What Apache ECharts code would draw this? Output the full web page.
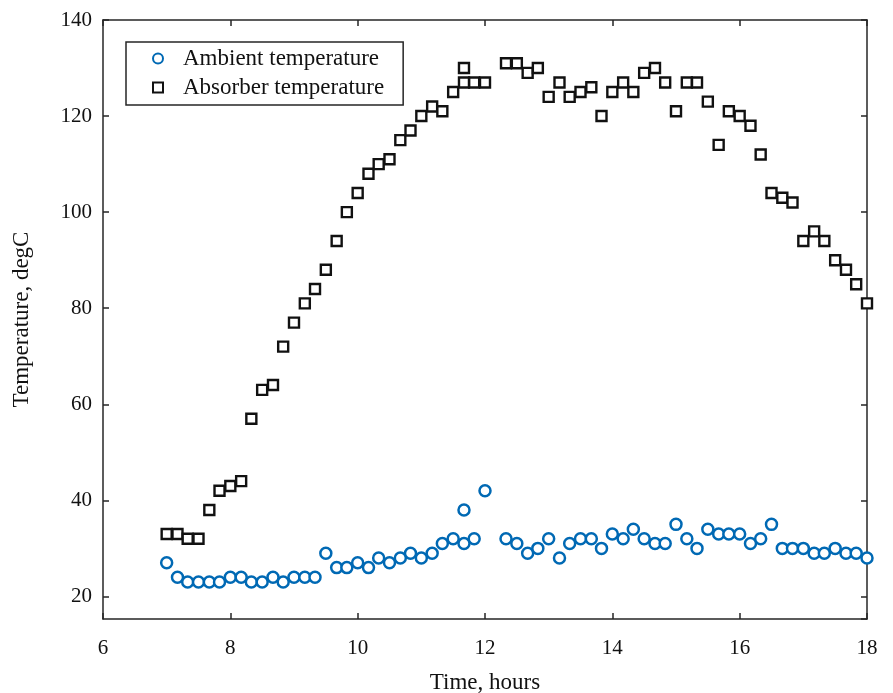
<!DOCTYPE html>
<html>
  <head>
    <meta charset="utf-8" />
    <title>Ambient and absorber temperature</title>
    <script src="https://cdn.jsdelivr.net/npm/echarts@6/dist/echarts.min.js"></script>
    <style>
      html, body { margin: 0; padding: 0; background: #fff; }
      #chart { width: 893px; height: 693px; }
    </style>
  </head>
  <body>
    <div id="chart"></div>
    <script type="text/javascript">
      // time of each reading, hours (two readings logged at 11:40)
      var hours = [
        7.00, 7.17, 7.33, 7.50, 7.67, 7.83,
        8.00, 8.17, 8.33, 8.50, 8.67, 8.83,
        9.00, 9.17, 9.33, 9.50, 9.67, 9.83,
        10.00, 10.17, 10.33, 10.50, 10.67, 10.83,
        11.00, 11.17, 11.33, 11.50, 11.67, 11.67, 11.83,
        12.00, 12.33, 12.50, 12.67, 12.83,
        13.00, 13.17, 13.33, 13.50, 13.67, 13.83,
        14.00, 14.17, 14.33, 14.50, 14.67, 14.83,
        15.00, 15.17, 15.33, 15.50, 15.67, 15.83,
        16.00, 16.17, 16.33, 16.50, 16.67, 16.83,
        17.00, 17.17, 17.33, 17.50, 17.67, 17.83,
        18.00
      ];
      var ambient = [
        27, 24, 23, 23, 23, 23,
        24, 24, 23, 23, 24, 23,
        24, 24, 24, 29, 26, 26,
        27, 26, 28, 27, 28, 29,
        28, 29, 31, 32, 38, 31, 32,
        42, 32, 31, 29, 30,
        32, 28, 31, 32, 32, 30,
        33, 32, 34, 32, 31, 31,
        35, 32, 30, 34, 33, 33,
        33, 31, 32, 35, 30, 30,
        30, 29, 29, 30, 29, 29,
        28
      ];
      var absorber = [
        33, 33, 32, 32, 38, 42,
        43, 44, 57, 63, 64, 72,
        77, 81, 84, 88, 94, 100,
        104, 108, 110, 111, 115, 117,
        120, 122, 121, 125, 130, 127, 127,
        127, 131, 131, 129, 130,
        124, 127, 124, 125, 126, 120,
        125, 127, 125, 129, 130, 127,
        121, 127, 127, 123, 114, 121,
        120, 118, 112, 104, 103, 102,
        94, 96, 94, 90, 88, 85,
        81
      ];
      var xTicks = [6, 8, 10, 12, 14, 16, 18];
      var yTicks = [20, 40, 60, 80, 100, 120, 140];

      var font = "Liberation Serif";

      function pairs(vals) {
        var out = [];
        for (i = 0; i < hours.length; i++) {
          out.push([hours[i], vals[i]]);
        }
        return out;
      }

      var chartDom = document.getElementById("chart");
      var myChart = echarts.init(chartDom, null, { renderer: "canvas" });
      var option;

      var axisLine = { show: true, onZero: false, lineStyle: { color: "#262626", width: 1.5 } };
      var axisTick = { show: true, inside: true, length: 6, lineStyle: { color: "#262626", width: 1.5 } };

      option = {
        backgroundColor: "#fff",
        animation: false,
        grid: { left: 103, right: 26, top: 20, bottom: 74, outerBoundsMode: "none", containLabel: false },
        legend: {
          orient: "vertical",
          left: 126,
          top: 42,
          data: [
            { name: "Ambient temperature", icon: "circle" },
            { name: "Absorber temperature", icon: "rect" }
          ],
          itemWidth: 10,
          itemHeight: 10,
          itemGap: 6,
          padding: [5, 19, 6, 26],
          backgroundColor: "#fff",
          borderColor: "#262626",
          borderWidth: 1.5,
          borderRadius: 0,
          textStyle: { fontFamily: font, fontSize: 23, color: "#111", padding: [0, 0, 0, 15] }
        },
        xAxis: [
          {
            type: "value",
            min: 6,
            max: 18,
            interval: 2,
            name: "Time, hours",
            nameLocation: "middle",
            nameGap: 52,
            nameTextStyle: { fontFamily: font, fontSize: 23, color: "#111" },
            axisLine: axisLine,
            axisTick: axisTick,
            splitLine: { show: false },
            axisLabel: {
              margin: 19,
              fontFamily: font,
              fontSize: 21,
              color: "#111",
              formatter: function (v) { return xTicks.indexOf(v) >= 0 ? String(v) : ""; }
            }
          },
          {
            type: "value",
            position: "top",
            min: 6,
            max: 18,
            interval: 2,
            axisLine: axisLine,
            axisTick: axisTick,
            splitLine: { show: false },
            axisLabel: { show: false }
          }
        ],
        yAxis: [
          {
            type: "value",
            min: 15.3,
            max: 140,
            splitNumber: 6,
            name: "Temperature, degC",
            nameLocation: "middle",
            nameGap: 70,
            nameTextStyle: { fontFamily: font, fontSize: 23, color: "#111" },
            axisLine: axisLine,
            axisTick: axisTick,
            splitLine: { show: false },
            axisLabel: {
              margin: 11,
              fontFamily: font,
              fontSize: 21,
              color: "#111",
              showMinLabel: false,
              formatter: function (v) { return yTicks.indexOf(v) >= 0 ? String(v) : ""; }
            }
          },
          {
            type: "value",
            position: "right",
            min: 15.3,
            max: 140,
            splitNumber: 6,
            axisLine: axisLine,
            axisTick: axisTick,
            splitLine: { show: false },
            axisLabel: { show: false }
          }
        ],
        series: [
          {
            name: "Ambient temperature",
            type: "scatter",
            symbol: "circle",
            symbolSize: 11,
            itemStyle: { color: "#fff", borderColor: "#0069B4", borderWidth: 2.5, opacity: 1 },
            data: pairs(ambient)
          },
          {
            name: "Absorber temperature",
            type: "scatter",
            symbol: "rect",
            symbolSize: 10,
            itemStyle: { color: "#fff", borderColor: "#111", borderWidth: 2.4, opacity: 1 },
            data: pairs(absorber)
          }
        ]
      };

      option && myChart.setOption(option);
    </script>
  </body>
</html>
